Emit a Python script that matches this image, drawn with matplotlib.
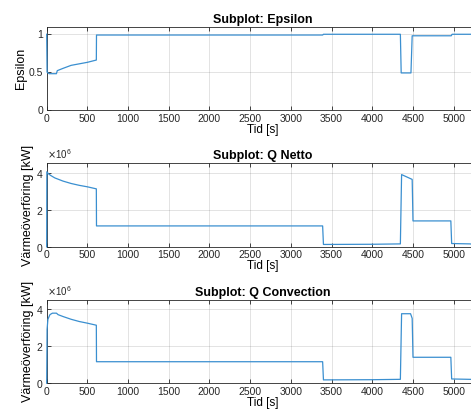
import matplotlib
matplotlib.use("Agg")
import matplotlib.pyplot as plt
from matplotlib.ticker import ScalarFormatter

plt.rcParams['font.family'] = ['Liberation Sans', 'DejaVu Sans']

# Subplot: Epsilon
t_eps = [0, 5, 30, 120, 130, 200, 300, 400, 500, 610, 612, 3390, 3400,
         4345, 4355, 4475, 4490, 4970, 4980, 5300]
eps = [1.0, 0.5, 0.48, 0.48, 0.52, 0.55, 0.59, 0.61, 0.63, 0.66, 0.99, 0.99, 1.0,
       1.0, 0.49, 0.49, 0.98, 0.98, 1.0, 1.0]

# Subplot: Q Netto (W)
t_net = [0, 2, 20, 50, 100, 200, 300, 400, 500, 610, 612, 3390, 3400, 4000,
         4345, 4360, 4490, 4500, 4965, 4975, 5200, 5300]
q_net = [0, 4.05e6, 3.95e6, 3.85e6, 3.72e6, 3.55e6, 3.42e6, 3.32e6, 3.24e6, 3.13e6,
         1.13e6, 1.13e6, 0.13e6, 0.14e6, 0.16e6, 3.9e6, 3.64e6, 1.40e6, 1.40e6,
         0.18e6, 0.16e6, 0.10e6]

# Subplot: Q Convection
t_conv = [0, 5, 15, 40, 70, 120, 140, 200, 300, 400, 500, 610, 612, 3390, 3400,
          4000, 4345, 4360, 4470, 4490, 4500, 4965, 4975, 5300]
q_conv = [0, 2.9e6, 3.45e6, 3.7e6, 3.78e6, 3.78e6, 3.7e6, 3.6e6, 3.45e6, 3.33e6,
          3.24e6, 3.13e6, 1.16e6, 1.16e6, 0.18e6, 0.19e6, 0.21e6, 3.75e6, 3.75e6,
          3.5e6, 1.40e6, 1.40e6, 0.23e6, 0.2e6]

x_ticks = list(range(0, 5001, 500))
line_color = "#3a8fd0"
edge = "#262626"

fig = plt.figure(figsize=(4.71, 4.17), dpi=100)
fig.patch.set_facecolor("white")

panels = [
    (0.736, t_eps, eps, "Subplot: Epsilon", "Epsilon", (0, 1.1), [0, 0.5, 1]),
    (0.408, t_net, q_net, "Subplot: Q Netto", "Värmeöverföring [kW]", (0, 4.5e6), [0, 2e6, 4e6]),
    (0.081, t_conv, q_conv, "Subplot: Q Convection", "Värmeöverföring [kW]", (0, 4.5e6), [0, 2e6, 4e6]),
]

for bottom, t, y, title, ylab, ylim, yticks in panels:
    ax = fig.add_axes([0.0991, bottom, 0.916, 0.2])
    ax.plot(t, y, color=line_color, linewidth=0.9, clip_on=False, zorder=5)
    ax.set_xlim(0, 5300)
    ax.set_ylim(*ylim)
    ax.set_xticks(x_ticks)
    ax.set_yticks(yticks)
    if ylim[1] > 10:
        fmt = ScalarFormatter(useMathText=True)
        fmt.set_powerlimits((0, 0))
        ax.yaxis.set_major_formatter(fmt)
        ax.yaxis.get_offset_text().set_fontsize(7)
        ax.yaxis.get_offset_text().set_color("#555555")
    else:
        ax.set_yticklabels(["0", "0.5", "1"])
    ax.grid(True, color="#262626", alpha=0.15, linewidth=0.6)
    ax.tick_params(direction="in", top=True, right=True, labelsize=7.5,
                   length=3, width=0.6, colors=edge, pad=2.5)
    for s in ax.spines.values():
        s.set_color(edge)
        s.set_linewidth(0.6)
    ax.set_title(title, fontsize=9, fontweight="bold", pad=3)
    ax.set_xlabel("Tid [s]", fontsize=8.5, labelpad=0)
    ax.set_ylabel(ylab, fontsize=9, labelpad=1)

fig.savefig("out.png", dpi=100)
